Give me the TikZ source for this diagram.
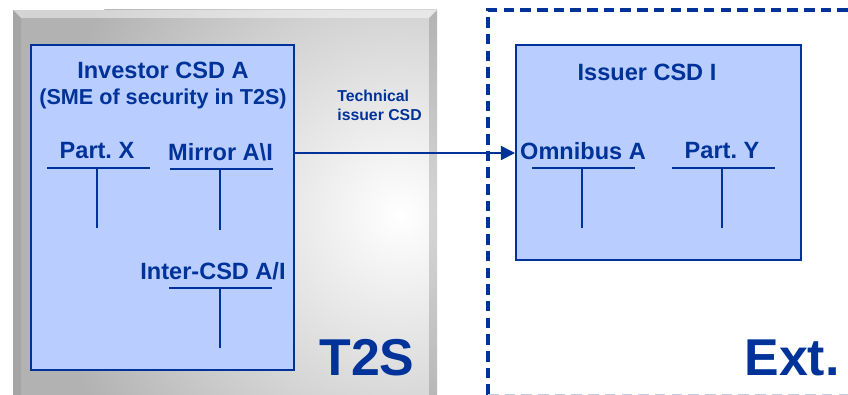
\documentclass[tikz,border=0pt]{standalone}
\usepackage{fontspec}
\setmainfont{Liberation Sans}
\usetikzlibrary{arrows.meta}
\definecolor{csdblue}{RGB}{0,51,153}
\definecolor{csdfill}{RGB}{185,205,255}

\begin{document}
\frenchspacing
\begin{tikzpicture}[x=0.02cm,y=-0.02cm,
  csdbox/.style={draw=csdblue,fill=csdfill,line width=0.9pt,anchor=north west},
  acct/.style={draw=csdblue,line width=1.1pt},
  lbl/.style={text=csdblue,font=\bfseries\fontsize{13.4}{16}\selectfont,inner sep=0pt,anchor=base},
  biglbl/.style={text=csdblue,font=\bfseries\fontsize{29.5}{34}\selectfont,inner sep=0pt,anchor=base}]
\useasboundingbox (0,0) rectangle (848,395);
% T2S platform (grey bevelled panel)
\begin{scope}
\clip (13,10) rectangle (437,395);
\fill[black!30] (13,10) rectangle (437,395);
\shade[inner color=white,outer color=black!30] (400,215) circle (360);
\end{scope}
\fill[white,opacity=0.45] (13,10) -- (437,10) -- (429,18) -- (21,18) -- cycle;
\fill[black,opacity=0.15] (437,10) -- (437,395) -- (429,395) -- (429,18) -- cycle;
\fill[black,opacity=0.07] (13,10) -- (21,18) -- (21,395) -- (13,395) -- cycle;
% external world
\draw[csdblue,line width=2.1pt,dash pattern=on 6pt off 3.5pt] (848,10) -- (488,10) -- (488,395);
\draw[csdblue!25,line width=0.8pt,dash pattern=on 6pt off 3.5pt] (488,394.5) -- (848,394.5);

% CSD boxes
\node[csdbox,minimum width=5.26cm,minimum height=6.5cm] (inv) at (30,44) {};
\node[csdbox,minimum width=5.7cm,minimum height=4.3cm] (iss) at (515,44) {};

\node[lbl] (invname) at (163,79) {Investor CSD A};
\node[lbl,font=\bfseries\fontsize{12.3}{15}\selectfont] (invsme) at (163,105) {(SME of security in T2S)};
\node[lbl] (issname) at (647,81) {Issuer CSD I};

% accounts
\node[lbl] (partx) at (97,158) {Part. X};
\draw[acct] (47,168) -- (150,168);
\draw[acct] (97,168) -- (97,228);

\node[lbl] (mirror) at (220.5,160) {Mirror A\textbackslash I};
\draw[acct] (170,169) -- (273,169);
\draw[acct] (220,169) -- (220,230);

\node[lbl] (intercsd) at (213,279) {Inter-CSD A/I};
\draw[acct] (169,288) -- (272,288);
\draw[acct] (220,288) -- (220,348);

\node[lbl] (omnibus) at (583,159) {Omnibus A};
\draw[acct] (532,168) -- (635,168);
\draw[acct] (582,168) -- (582,228);

\node[lbl] (party) at (722,158) {Part. Y};
\draw[acct] (672,168) -- (775,168);
\draw[acct] (722,168) -- (722,228);

% link
\coordinate (linky) at (0,153);
\draw[csdblue,line width=0.9pt,-{Triangle[length=8pt,width=8pt]}] (inv.east |- linky) -- (iss.west |- linky);
\node[text=csdblue,font=\bfseries\fontsize{9}{10.8}\selectfont,align=left,anchor=base west,inner sep=0pt] (tech) at (337,120) {Technical\\issuer CSD};

% domains
\node[biglbl] (t2s) at (367,375) {T2S};
\node[biglbl] (ext) at (792,375) {Ext.};
\end{tikzpicture}
\end{document}
